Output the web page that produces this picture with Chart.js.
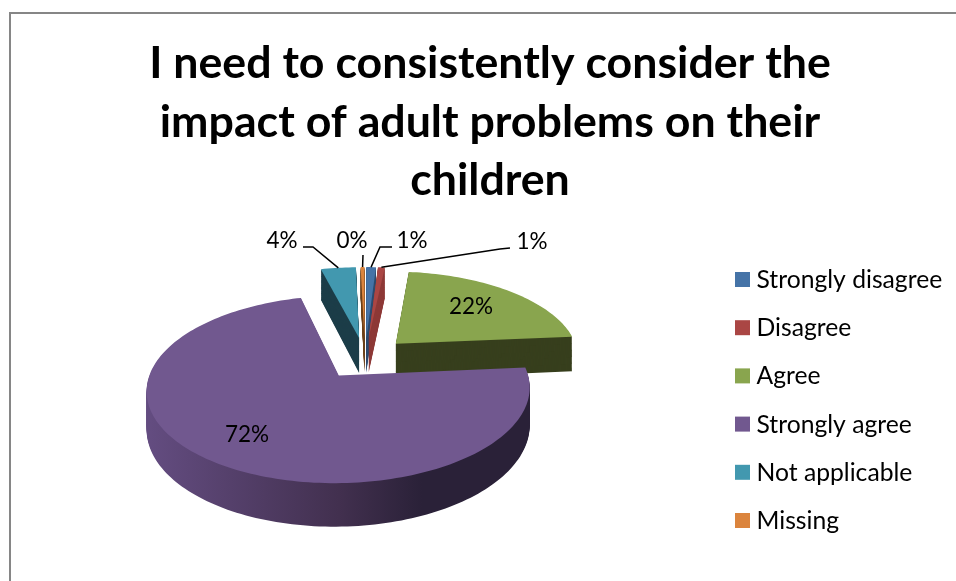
<!DOCTYPE html>
<html>
<head>
<meta charset="utf-8">
<style>
  html, body { margin: 0; padding: 0; background: #fff; }
  #frame { position: absolute; left: 9px; top: 12px; width: 947px; height: 569px; border-left: 2px solid #868686; border-top: 2px solid #868686; box-sizing: border-box; }
  #wrap { position: absolute; left: 0; top: 0; width: 956px; height: 581px; }
</style>
</head>
<body>
<div id="frame"></div>
<div id="wrap"><canvas id="pie" width="956" height="581"></canvas></div>
<script src="https://cdn.jsdelivr.net/npm/chart.js@4"></script>
<script>
const titleLines = ['I need to consistently consider the', 'impact of adult problems on their', 'children'];
const categories = ['Strongly disagree', 'Disagree', 'Agree', 'Strongly agree', 'Not applicable', 'Missing'];
const percents = [1, 0.7, 21.9, 72.4, 3.6, 0.4];

const faceColors = ['#4573a7', '#aa4644', '#89a54e', '#71588f', '#4298af', '#db843d'];
const sideColors = ['#2f4d70', '#8e3a38', '#373f1d', '#2a2138', '#1c3d48', '#6e421e'];
const drawOrder = [4, 5, 0, 1, 2, 3];

// text anchors for the percent labels, and elbow of the leader line (null = no leader)
const labelSpots = [[412, 241], [532, 242], [471, 307], [247, 435], [282, 241], [352, 241]];
const leaderElbows = [[[392, 247], [380, 247]], [[510, 248], [500, 249]], null, null, [[303, 247], [313, 247]], [[363, 255]]];

const labelFont = '22.5px Lato';
const legendFont = '24.7px Lato';

// fake perspective for the 3d pie
const view = { cx: 365, cy: 358, rx: 184, ry: 86.5, persp: 0.145, explode: 0.24, depth: 36 };

function project(u, v, z) {
  const d = 1 + view.persp * v;
  return { x: view.cx + view.rx * u / d, y: view.cy - view.ry * v / d + z / d };
}

function slicePath(ctx, start, end, z) {
  const mid = (start + end) / 2;
  const ou = Math.sin(mid) * view.explode, ov = Math.cos(mid) * view.explode;
  const steps = Math.max(4, Math.ceil((end - start) * 40));
  ctx.beginPath();
  let p = project(ou, ov, z);
  ctx.moveTo(p.x, p.y);
  for (let i = 0; i <= steps; i++) {
    const a = start + (end - start) * i / steps;
    p = project(ou + Math.sin(a), ov + Math.cos(a), z);
    ctx.lineTo(p.x, p.y);
  }
  ctx.closePath();
}

const pie3d = {
  id: 'pie3d',
  beforeDatasetsDraw(chart) {
    const ctx = chart.ctx;
    const arcs = chart.getDatasetMeta(0).data;
    const sideFill = i => {
      if (i !== 3) return sideColors[i];
      const g = ctx.createLinearGradient(150, 0, 528, 0);
      g.addColorStop(0, '#634c80');
      g.addColorStop(0.5, '#42304f');
      g.addColorStop(0.72, '#2a2138');
      g.addColorStop(1, '#2a2138');
      return g;
    };
    ctx.save();
    drawOrder.forEach(i => {
      const start = arcs[i].startAngle + Math.PI / 2;
      const end = arcs[i].endAngle + Math.PI / 2;
      ctx.fillStyle = sideFill(i);
      for (let z = view.depth; z > 0; z--) {
        slicePath(ctx, start, end, z);
        ctx.fill();
      }
      ctx.fillStyle = faceColors[i];
      slicePath(ctx, start, end, 0);
      ctx.fill();
    });

    // percent labels and leaders
    ctx.fillStyle = '#000';
    ctx.strokeStyle = '#000';
    ctx.lineWidth = 1.5;
    ctx.font = labelFont;
    ctx.textAlign = 'center';
    ctx.textBaseline = 'middle';
    const total = percents.reduce((a, b) => a + b, 0);
    percents.forEach((val, i) => {
      ctx.fillText(Math.round(val / total * 100) + '%', labelSpots[i][0], labelSpots[i][1]);
      if (!leaderElbows[i]) return;
      const start = arcs[i].startAngle + Math.PI / 2;
      const end = arcs[i].endAngle + Math.PI / 2;
      const mid = (start + end) / 2;
      const tip = project(Math.sin(mid) * (1 + view.explode), Math.cos(mid) * (1 + view.explode), 0);
      ctx.beginPath();
      leaderElbows[i].forEach((pt, n) => n ? ctx.lineTo(pt[0], pt[1]) : ctx.moveTo(pt[0], pt[1]));
      ctx.lineTo(tip.x, tip.y);
      ctx.stroke();
    });

    // legend
    ctx.textAlign = 'left';
    ctx.font = legendFont;
    categories.forEach((name, i) => {
      const y = 279.5 + i * 48.2;
      ctx.fillStyle = faceColors[i];
      ctx.fillRect(735, y - 7.5, 15, 15);
      ctx.fillStyle = '#000';
      ctx.fillText(name, 756.5, y + 0.5);
    });
    ctx.restore();
    return false;
  }
};

new Chart(document.getElementById('pie'), {
  type: 'pie',
  data: { labels: categories, datasets: [{ data: percents, backgroundColor: faceColors, borderWidth: 0 }] },
  options: {
    responsive: false,
    animation: false,
    layout: { padding: { left: 24, top: 35 } },
    plugins: {
      legend: { display: false },
      tooltip: { enabled: false },
      title: {
        display: true,
        text: titleLines,
        color: '#000',
        font: { family: 'Lato', size: 44.7, weight: 'bold', lineHeight: 1.3 },
        padding: { top: 0, bottom: 0 }
      }
    }
  },
  plugins: [pie3d]
});
</script>
</body>
</html>
